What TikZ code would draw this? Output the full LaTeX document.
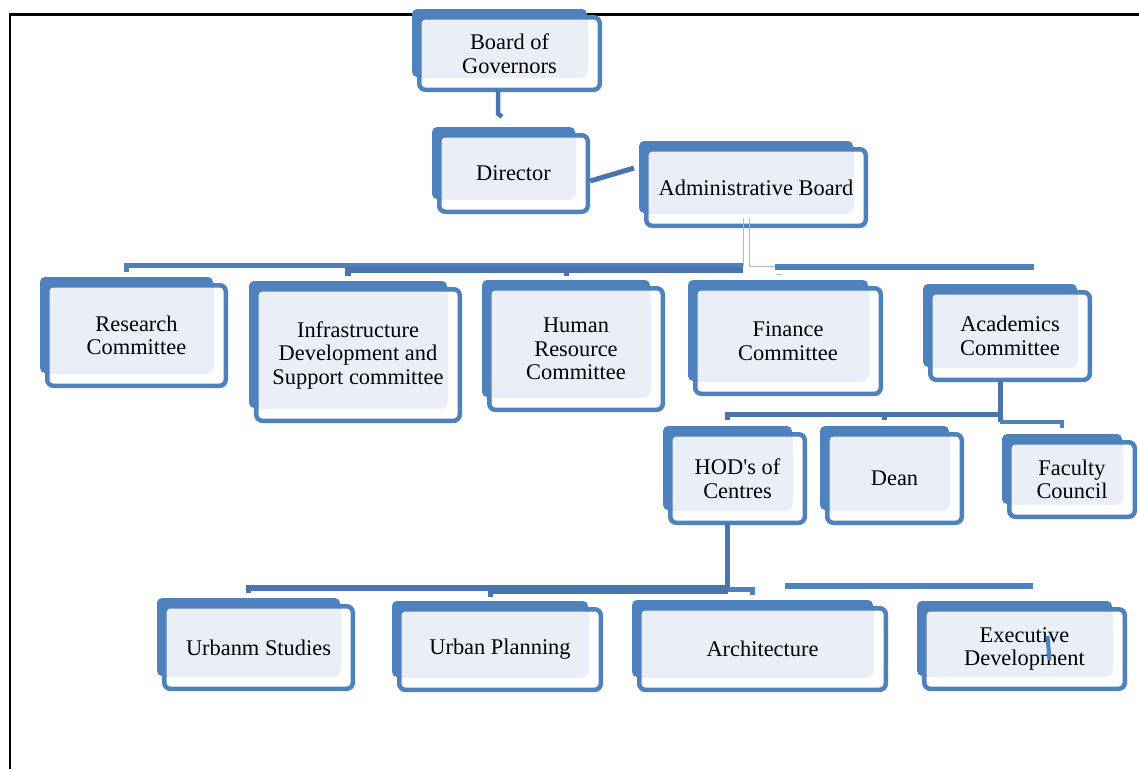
\documentclass[tikz,border=0pt]{standalone}
\usepackage{fontspec}
\newfontfamily\boxfont{Liberation Serif}
\usetikzlibrary{calc}

\definecolor{chartblue}{HTML}{4F81BD}
\definecolor{chartdark}{HTML}{4A75AB}
\definecolor{chartpale}{HTML}{EAEFF7}
\definecolor{hairline}{HTML}{A9B9D2}

\tikzset{
  backshape/.style={fill=chartblue, rounded corners=5pt, inner sep=0pt, outer sep=0pt},
  paleshape/.style={fill=chartpale, rounded corners=4pt, inner sep=0pt, outer sep=0pt},
  frontbox/.style={draw=chartblue, line width=4.5pt, rounded corners=6pt,
    inner sep=0pt, outer sep=0pt, align=center, text=black,
    font=\boxfont\fontsize{22.4pt}{23.5pt}\selectfont},
  bar/.style={draw=chartblue, line width=5pt},
  darkbar/.style={draw=chartdark, line width=5.5pt},
  hair/.style={draw=hairline, line width=1pt},
  frameline/.style={draw=black, line width=2.4pt}
}

% #1 name, #2 #3 centre of the outlined box, #4 #5 its outer width and height, #6 text
\newcommand\orgbox[6]{%
  \node[backshape, minimum width={(#4-10)*1pt}, minimum height={(#5-9)*1pt}]
    (#1-back) at ({#2-10},{#3-10.5}) {};
  \node[paleshape, minimum width={(#4-17)*1pt}, minimum height={(#5-17)*1pt}]
    (#1-pale) at ({#2-6.5},{#3-6.5}) {};
  \node[frontbox, minimum width={(#4-4.5)*1pt}, minimum height={(#5-4.5)*1pt}]
    (#1) at (#2,#3) {#6};
}

\begin{document}
\begin{tikzpicture}[x=1pt,y=-1pt]
\useasboundingbox (0,0) rectangle (1139,769);

% page frame
\coordinate (frameTL) at (9.7,14.5);
\draw[frameline] (frameTL |- 0,769) -- (frameTL) -- (1139,14.5);

% top of the chart
\orgbox{gov}{509.5}{53.5}{185}{77}{Board of\\Governors}
\orgbox{dir}{513.5}{173.5}{153}{81}{Director}
\orgbox{adm}{756}{187.5}{224}{81}{Administrative Board}

% committees
\orgbox{res}{136.5}{335.5}{183}{105}{Research\\Committee}
\orgbox{inf}{358}{355}{208}{136}{Infrastructure\\Development and\\Support committee}
\orgbox{hrc}{576}{349}{178}{126}{Human\\Resource\\Committee}
\orgbox{fin}{788}{341}{190}{110}{Finance\\Committee}
\orgbox{aca}{1010}{336}{164}{92}{Academics\\Committee}

% academic level
\orgbox{hod}{737.5}{478.5}{139}{93}{HOD's of\\Centres}
\orgbox{dean}{894.5}{478.5}{139}{93}{Dean}
\orgbox{fac}{1072}{479.5}{130}{79}{Faculty\\Council}

% centres
\orgbox{urs}{258.5}{647.5}{193}{87}{Urbanm Studies}
\orgbox{urp}{500}{649.5}{206}{85}{Urban Planning}
\orgbox{arc}{762.5}{649}{251}{86}{Architecture}
\orgbox{exe}{1024.5}{649}{205}{84}{Executive\\Development}

% Board -> Director
\draw[darkbar, line width=4.5pt]
  ($(gov-back.south |- gov.south)+(-1.5,0)$) -- ++(0,24) -- ++(4,3);

% Director -- Administrative Board
\draw[darkbar, line width=5pt]
  ($(dir.east)+(2.5,7.5)$) -- ($(adm-back.west)+(-5,-9)$);

% Administrative Board -> committees
\coordinate (busA) at (0,265.5);
\coordinate (busB) at (0,269.5);
\draw[hair] ($(adm.south)+(-13,-8)$) -- ($(adm.south)+(-13,40)$);
\draw[hair] ($(adm.south)+(-7,-8)$) -- ($(adm.south)+(-7,40.5)$) -- ($(adm.south)+(19,40.5)$);
\draw[bar] ($(res-back.north |- busA)+(0,6.5)$) -- (res-back.north |- busA)
  -- ($(adm.south |- busA)+(-13,0)$);
\draw[darkbar, line width=6pt] ($(inf-back.north |- busB)+(0,6.5)$) -- (inf-back.north |- busB)
  -- ($(adm.south |- busB)+(-13,0)$);
\draw[darkbar, line width=5pt] (hrc-back.north |- busB) -- ++(0,6.5);
\draw[bar, line width=6pt] ($(adm.south |- busA)+(19,1)$) -- ($(aca-back.north |- busA)+(33.5,1)$);
\draw[hair] ($(adm.south |- busA)+(20,8.5)$) -- ++(6,0);

% Academics Committee -> academic level
\coordinate (busC) at (0,414.5);
\coordinate (busD) at (0,422);
\draw[darkbar, line width=5pt] (aca-back.south |- aca.south) -- (aca-back.south |- busD);
\draw[darkbar] ($(hod-back.north |- busC)+(0,5)$) -- (hod-back.north |- busC)
  -- (aca-back.south |- busC);
\draw[darkbar, line width=5pt] (dean-back.north |- busC) -- ++(0,5);
\draw[bar, line width=4.5pt] (aca-back.south |- busD) -- (fac-back.north |- busD) -- ++(0,6);

% HOD's of Centres -> centres
\coordinate (busE) at (0,588);
\coordinate (busF) at (0,591.5);
\coordinate (busG) at (0,589.5);
\draw[darkbar, line width=4.5pt] (hod-back.south |- hod.south) -- (hod-back.south |- busF);
\draw[darkbar] ($(urs-back.north |- busE)+(0,4.5)$) -- (urs-back.north |- busE)
  -- (hod-back.south |- busE);
\draw[darkbar, line width=5pt] ($(urp-back.north |- busF)+(0,5.5)$) -- (urp-back.north |- busF)
  -- (hod-back.south |- busF);
\draw[bar, line width=4.5pt] (hod-back.south |- busG) -- (arc-back.north |- busG) -- ++(0,5.5);
\draw[bar, line width=6pt] ($(arc-back.north |- busE)+(32,-1.7)$) -- ($(exe-back.north |- busE)+(18,-1.7)$);

% stray stroke across the last box
\draw[chartblue, line width=4pt] ($(exe.center)+(23,-13)$) -- ($(exe.center)+(25,11)$);
\end{tikzpicture}
\end{document}
